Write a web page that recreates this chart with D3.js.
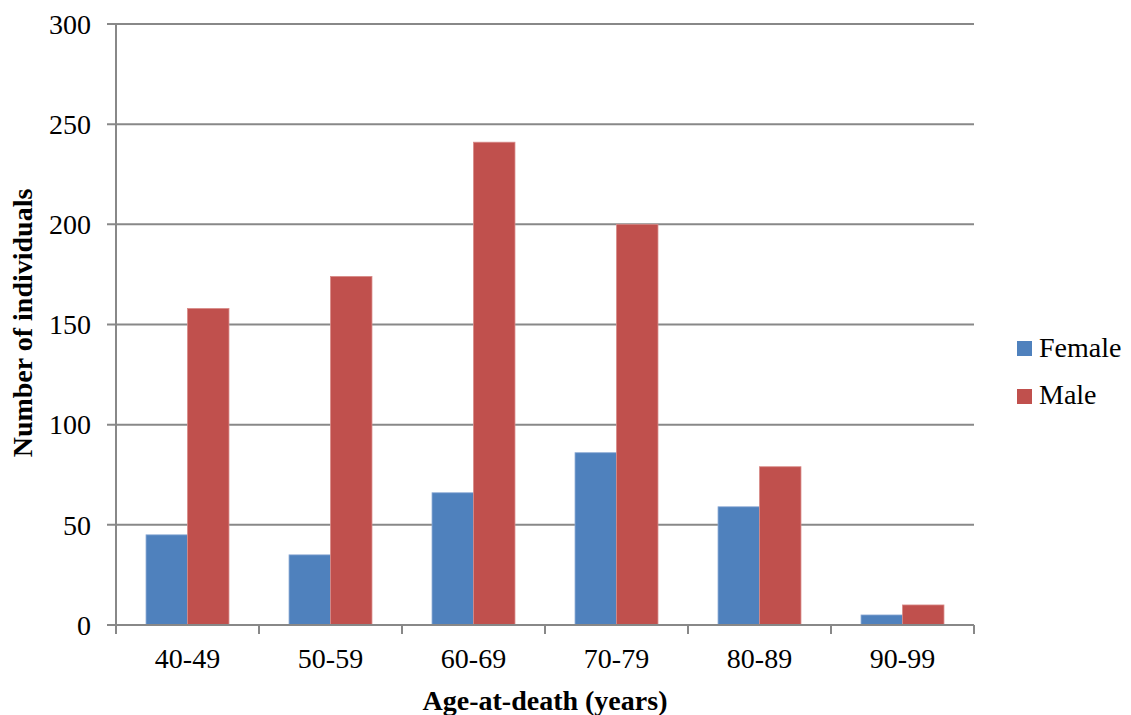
<!DOCTYPE html>
<html><head><meta charset="utf-8">
<script src="https://cdn.jsdelivr.net/npm/d3@7"></script>
<style>body{margin:0;background:#fff}text{font-family:"Liberation Serif","Times New Roman",serif}</style>
</head><body>
<svg id="c" width="1131" height="715"></svg>
<script>
const categories = ["40-49","50-59","60-69","70-79","80-89","90-99"];
const female = [45,35,66,86,59,5];
const male = [158,174,241,200,79,10];
const seriesNames = ["Female","Male"];
const colors = ["#4F81BD","#C0504D"];
const yTicks = [0,50,100,150,200,250,300];

const svg = d3.select("#c");
const L=116, R=974, T=24, B=625;
const FS = 28;
const x = d3.scaleBand().domain(categories).range([L,R]).paddingInner(0.42).paddingOuter(0.21);
const xs = d3.scaleBand().domain(seriesNames).range([0,x.bandwidth()]);
const y = d3.scaleLinear().domain([0,300]).range([B,T]);

// gridlines
svg.append("g").selectAll("line").data(yTicks).join("line")
  .attr("x1",L-9).attr("x2",R).attr("y1",d=>y(d)).attr("y2",d=>y(d))
  .attr("stroke","#888").attr("stroke-width",2);

// bars
const data = categories.map((c,i)=>({c, vals:[female[i],male[i]]}));
const g = svg.append("g");
data.forEach(d=>{
  d.vals.forEach((v,j)=>{
    g.append("rect").attr("x",x(d.c)+xs(seriesNames[j])).attr("width",xs.bandwidth())
     .attr("y",y(v)).attr("height",B-y(v)).attr("fill",colors[j])
     .attr("stroke",j?"#D88A88":"#8AA8D4").attr("stroke-width",0.8);
  });
});

// y axis line
svg.append("line").attr("x1",L).attr("x2",L).attr("y1",T).attr("y2",B+9).attr("stroke","#888").attr("stroke-width",2);
// x axis line
svg.append("line").attr("x1",L-9).attr("x2",R).attr("y1",B).attr("y2",B).attr("stroke","#888").attr("stroke-width",2);
// x ticks at band boundaries
const bounds = d3.range(categories.length+1).map(i=>L+i*(R-L)/categories.length);
svg.append("g").selectAll("line").data(bounds).join("line")
  .attr("x1",d=>d).attr("x2",d=>d).attr("y1",B).attr("y2",B+9).attr("stroke","#888").attr("stroke-width",2);

// y tick labels
svg.append("g").selectAll("text").data(yTicks).join("text")
  .attr("x",91).attr("y",d=>y(d)).attr("dy","0.35em").attr("text-anchor","end")
  .attr("font-size",FS).attr("fill","#000").text(d=>d);

// x tick labels
svg.append("g").selectAll("text").data(categories).join("text")
  .attr("x",d=>x(d)+x.bandwidth()/2).attr("y",668).attr("text-anchor","middle")
  .attr("font-size",FS).attr("fill","#000").text(d=>d);

// axis titles
svg.append("text").attr("x",545).attr("y",710).attr("text-anchor","middle")
  .attr("font-size",FS).attr("font-weight","bold").text("Age-at-death (years)");
svg.append("text").attr("transform","translate(32,323) rotate(-90)").attr("text-anchor","middle")
  .attr("font-size",FS).attr("font-weight","bold").text("Number of individuals");

// legend
const lg = svg.append("g");
seriesNames.forEach((s,i)=>{
  lg.append("rect").attr("x",1017).attr("y",341+i*48).attr("width",15).attr("height",15).attr("fill",colors[i]);
  lg.append("text").attr("x",1039).attr("y",357+i*47).attr("font-size",FS).text(s);
});
</script>
</body></html>
